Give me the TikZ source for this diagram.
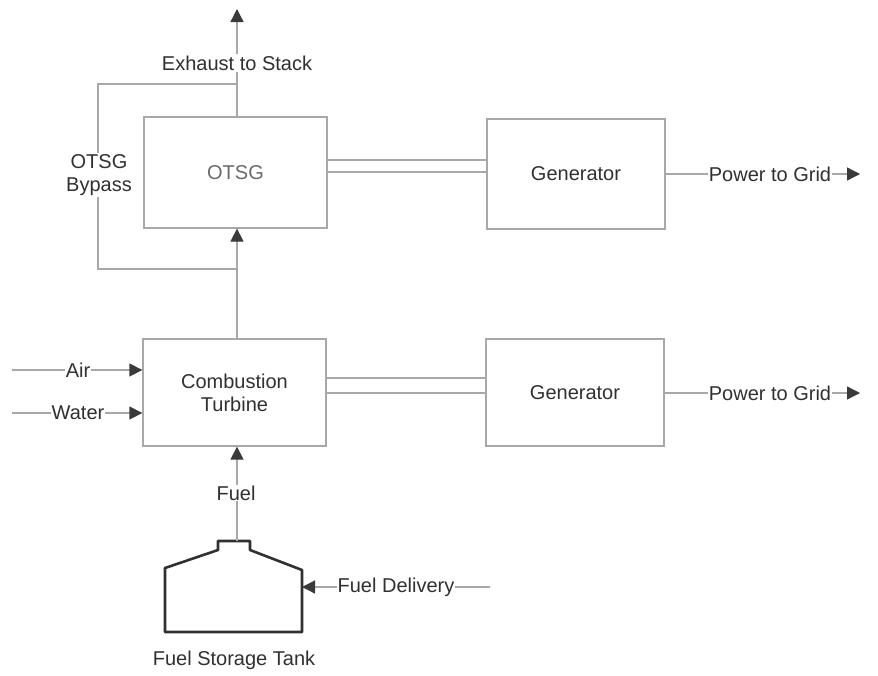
\documentclass[tikz,border=0pt]{standalone}
\usepackage{fontspec}
\setmainfont{Liberation Sans}
\usetikzlibrary{arrows.meta}
\definecolor{linec}{HTML}{A8A8A8}
\definecolor{txtc}{HTML}{303030}
\definecolor{lighttxt}{HTML}{6A6A6A}
\definecolor{tipc}{HTML}{3A3A3A}
\begin{document}
\begin{tikzpicture}[x=1pt,y=-1pt,
  box/.style={draw=linec, line width=1.3pt, inner sep=0pt, text=txtc, font=\fontsize{20}{23}\selectfont, align=center},
  lbl/.style={fill=white, text=txtc, font=\fontsize{20}{23}\selectfont, inner sep=2pt, align=center},
  flow/.style={draw=linec, line width=1.3pt},
  tipflow/.style={flow, -{Triangle[length=13pt,width=13pt,color=tipc]}},
]
\useasboundingbox (0,0) rectangle (878,675);

% boxes
\node[box, minimum width=183pt, minimum height=111pt, text=lighttxt] (otsg) at (235.5,172.5) {OTSG};
\node[box, minimum width=183pt, minimum height=107pt] (ct) at (234.5,392.5) {Combustion\\Turbine};
\node[box, minimum width=178pt, minimum height=110pt] (gen1) at (576,174) {Generator};
\node[box, minimum width=178pt, minimum height=107pt] (gen2) at (575,392.5) {Generator};

% helper coordinates
\coordinate (y160) at (0,160);
\coordinate (y172) at (0,172);
\coordinate (y378) at (0,378);
\coordinate (y393) at (0,393);
\coordinate (exhEnd) at (237,9);
\coordinate (bypTop) at (237,84);
\coordinate (bypTL) at (98,84);
\coordinate (bypBL) at (98,269);
\coordinate (bypBot) at (237,269);
\coordinate (airStart) at (12,370);
\coordinate (waterStart) at (12,413);
\coordinate (grid1End) at (860,174);
\coordinate (grid2End) at (860,393);
\coordinate (delStart) at (490,587);
\coordinate (tankTop) at (237,541);
\coordinate (tankR) at (302,587);

% shafts
\draw[flow] (otsg.east |- y160) -- (gen1.west |- y160);
\draw[flow] (otsg.east |- y172) -- (gen1.west |- y172);
\draw[flow] (ct.east |- y378) -- (gen2.west |- y378);
\draw[flow] (ct.east |- y393) -- (gen2.west |- y393);

% exhaust
\draw[tipflow] (otsg.north -| exhEnd) -- (exhEnd);
\node[lbl] (exh) at (237,63) {Exhaust to Stack};

% bypass
\draw[flow] (bypTop) -- (bypTL) -- (bypBL) -- (bypBot);
\node[lbl, inner sep=1pt] (byp) at (99,175) {OTSG\\Bypass};

% CT to OTSG
\draw[tipflow] (ct.north -| bypBot) -- (otsg.south -| bypBot);

% air and water
\draw[tipflow] (airStart) -- (ct.west |- airStart);
\node[lbl, inner sep=1pt] (air) at (78,370) {Air};
\draw[tipflow] (waterStart) -- (ct.west |- waterStart);
\node[lbl, inner sep=1pt] (water) at (78,413) {Water};

% power to grid
\draw[tipflow] (gen1.east |- grid1End) -- (grid1End);
\node[lbl, inner sep=1pt] (p1) at (770,174) {Power to Grid};
\draw[tipflow] (gen2.east |- grid2End) -- (grid2End);
\node[lbl, inner sep=1pt] (p2) at (770,393) {Power to Grid};

% tank
\draw[draw=txtc, line width=2.6pt, line join=round]
  (218,550) -- (218,541) -- (250,541) -- (250,550) -- (302,570) -- (302,632)
  -- (165,632) -- (165,568) -- cycle;
\node[text=txtc, font=\fontsize{20}{23}\selectfont] (tanklbl) at (234,660) {Fuel Storage Tank};

% fuel
\draw[tipflow] (tankTop) -- (ct.south -| tankTop);
\node[lbl, inner sep=1pt] (fuel) at (236,493) {Fuel};

% fuel delivery
\draw[tipflow] (delStart) -- (tankR);
\node[lbl, inner sep=1pt] (del) at (396,587) {Fuel Delivery};
\end{tikzpicture}
\end{document}
